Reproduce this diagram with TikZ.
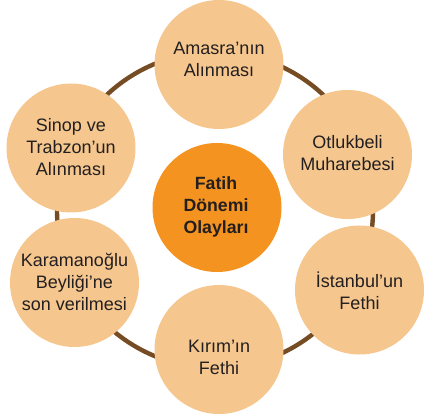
\documentclass[tikz,border=0pt]{standalone}
\usepackage{fontspec}
\setmainfont{Liberation Sans}
\definecolor{peach}{HTML}{F5C68D}
\definecolor{orangec}{HTML}{F4931F}
\definecolor{ringbrown}{HTML}{754C24}
\definecolor{txt}{HTML}{231F20}
\begin{document}
\begin{tikzpicture}[x=1pt,y=-1pt,
  ev/.style={circle,fill=peach,minimum size=129pt,inner sep=0pt},
  hub/.style={circle,fill=orangec,minimum size=129pt,inner sep=0pt},
  lbl/.style={align=center,text=txt,font=\fontsize{18}{22}\selectfont,inner sep=0pt},
  hublbl/.style={align=center,text=txt,font=\fontsize{17.7}{22}\selectfont\bfseries,inner sep=0pt},
  ring/.style={draw=ringbrown,line width=4.4pt}]
\useasboundingbox (0,0) rectangle (438,419);
\coordinate (rc) at (215,210);
\draw[ring] (rc) circle (158pt);
\node[ev] (amasra) at (219,64.5) {};
\node[ev] (otluk) at (347.5,154.5) {};
\node[ev] (istanbul) at (359.5,290) {};
\node[ev] (kirim) at (219,349.5) {};
\node[ev] (karaman) at (74.5,282.5) {};
\node[ev] (sinop) at (71,148) {};
\node[hub] (fatih) at (217,207.5) {};
\node[lbl] (tamasra) at (219,59) {Amasra’nın\\Alınması};
\node[lbl] (totluk) at (347.5,153) {Otlukbeli\\Muharebesi};
\node[lbl] (tistanbul) at (359.5,290.5) {İstanbul’un\\Fethi};
\node[lbl] (tkirim) at (219,357.5) {Kırım’ın\\Fethi};
\node[lbl] (tkaraman) at (74.5,281.5) {Karamanoğlu\\Beyliği’ne\\son verilmesi};
\node[lbl] (tsinop) at (71,147.5) {Sinop ve\\Trabzon’un\\Alınması};
\node[hublbl] (tfatih) at (216,206.5) {Fatih\\Dönemi\\Olayları};
\end{tikzpicture}
\end{document}
